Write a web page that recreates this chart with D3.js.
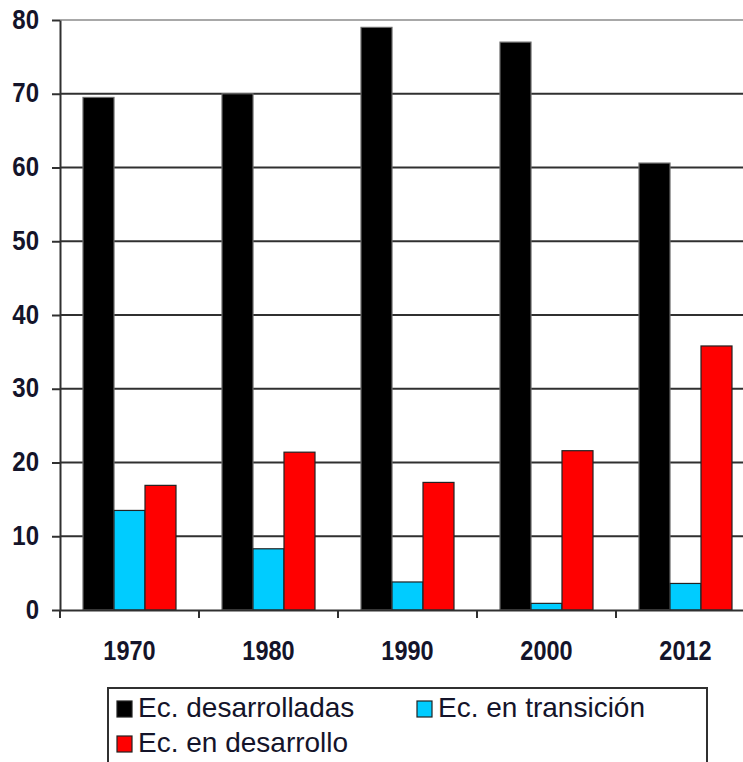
<!DOCTYPE html>
<html>
<head>
<meta charset="utf-8">
<script src="https://cdn.jsdelivr.net/npm/d3@7"></script>
<style>
  html, body { margin: 0; padding: 0; background: #fff; overflow: hidden; }
  svg { display: block; }
  text { font-family: "Liberation Sans", Arial, Helvetica, sans-serif; }
</style>
</head>
<body>
<svg id="chart" width="743" height="762"></svg>
<script>
// Participación por grupo de economías (%)
const years = ["1970", "1980", "1990", "2000", "2012"];
const desarrolladas = [69.5, 70, 79, 77, 60.6];
const transicion = [13.5, 8.3, 3.8, 0.9, 3.6];
const desarrollo = [16.9, 21.4, 17.3, 21.6, 35.8];
const seriesNames = ["Ec. desarrolladas", "Ec. en transición", "Ec. en desarrollo"];
const seriesColors = ["#000000", "#00CCFF", "#FF0000"];
const yTicks = [0, 10, 20, 30, 40, 50, 60, 70, 80];

const svg = d3.select("#chart");

const plot = { left: 60, right: 755, top: 20, bottom: 610 };

const x = d3.scaleBand()
  .domain(years)
  .range([plot.left, plot.right])
  .paddingInner(0)
  .paddingOuter(0);

const y = d3.scaleLinear()
  .domain([0, 80])
  .range([plot.bottom, plot.top]);

const seriesKeys = seriesNames.map((d, i) => i);
const barWidth = 31;
const xInner = d3.scaleBand()
  .domain(seriesKeys)
  .range([0, barWidth * 3]);

const seriesValues = [desarrolladas, transicion, desarrollo];

// Gridlines
svg.append("g")
  .selectAll("line")
  .data(yTicks.filter(t => t > 0))
  .join("line")
  .attr("x1", plot.left)
  .attr("x2", 743)
  .attr("y1", d => y(d))
  .attr("y2", d => y(d))
  .attr("stroke", d => d === 80 ? "#a8a8a8" : "#303030")
  .attr("stroke-width", 2);

// Bars
const groups = svg.append("g")
  .selectAll("g")
  .data(years)
  .join("g")
  .attr("transform", d => `translate(${x(d) + (x.bandwidth() - barWidth * 3) / 2},0)`);

groups.selectAll("rect")
  .data((d, i) => seriesValues.map((vals, s) => ({ s, v: vals[i] })))
  .join("rect")
  .attr("x", d => xInner(d.s))
  .attr("width", xInner.bandwidth())
  .attr("y", d => y(d.v))
  .attr("height", d => y(0) - y(d.v))
  .attr("fill", d => seriesColors[d.s])
  .attr("stroke", d => d.s === 0 ? "#6a6a6a" : "#222")
  .attr("stroke-width", 1.2);

// Y axis
const yAxis = svg.append("g")
  .attr("transform", `translate(${plot.left},0)`)
  .call(d3.axisLeft(y).tickValues(yTicks).tickSize(8).tickPadding(12).tickSizeOuter(0));
yAxis.select(".domain").attr("stroke", "#303030").attr("stroke-width", 2);
yAxis.selectAll(".tick line").attr("stroke", "#303030").attr("stroke-width", 2);
yAxis.selectAll(".tick text")
  .attr("font-size", 24)
  .attr("font-weight", "bold")
  .attr("fill", "#14142a")
  .attr("dy", null)
  .attr("y", 0)
  .attr("transform", "translate(-1,8) scale(1,1.15)");

// X axis
const xAxis = svg.append("g")
  .attr("transform", `translate(0,${plot.bottom})`)
  .call(d3.axisBottom(x).tickSize(0).tickPadding(0).tickSizeOuter(0));
xAxis.select(".domain").attr("stroke", "#303030").attr("stroke-width", 2);
xAxis.selectAll(".tick text")
  .attr("font-size", 23.5)
  .attr("font-weight", "bold")
  .attr("fill", "#14142a")
  .attr("dy", null)
  .attr("y", 0)
  .attr("transform", "translate(0,50) scale(1,1.18)");

// Category separator ticks
svg.append("g")
  .selectAll("line")
  .data(years.map(d => x(d)).concat([plot.right]))
  .join("line")
  .attr("x1", d => d)
  .attr("x2", d => d)
  .attr("y1", plot.bottom)
  .attr("y2", plot.bottom + 8)
  .attr("stroke", "#303030")
  .attr("stroke-width", 2);

// Legend
const legend = svg.append("g");
legend.append("rect")
  .attr("x", 108)
  .attr("y", 688)
  .attr("width", 599)
  .attr("height", 120)
  .attr("fill", "#fff")
  .attr("stroke", "#303030")
  .attr("stroke-width", 2);

const legendPos = [
  { x: 117, y: 717 },
  { x: 417, y: 717 },
  { x: 117, y: 752 }
];

const items = legend.selectAll("g.item")
  .data(seriesNames)
  .join("g")
  .attr("class", "item")
  .attr("transform", (d, i) => `translate(${legendPos[i].x},${legendPos[i].y})`);

items.append("rect")
  .attr("x", 0)
  .attr("y", -16)
  .attr("width", 15)
  .attr("height", 16)
  .attr("fill", (d, i) => seriesColors[i])
  .attr("stroke", "#222")
  .attr("stroke-width", 1.2);

items.append("text")
  .attr("x", 21)
  .attr("y", 0)
  .attr("font-size", 28)
  .attr("fill", "#14142a")
  .text(d => d);
</script>
</body>
</html>
